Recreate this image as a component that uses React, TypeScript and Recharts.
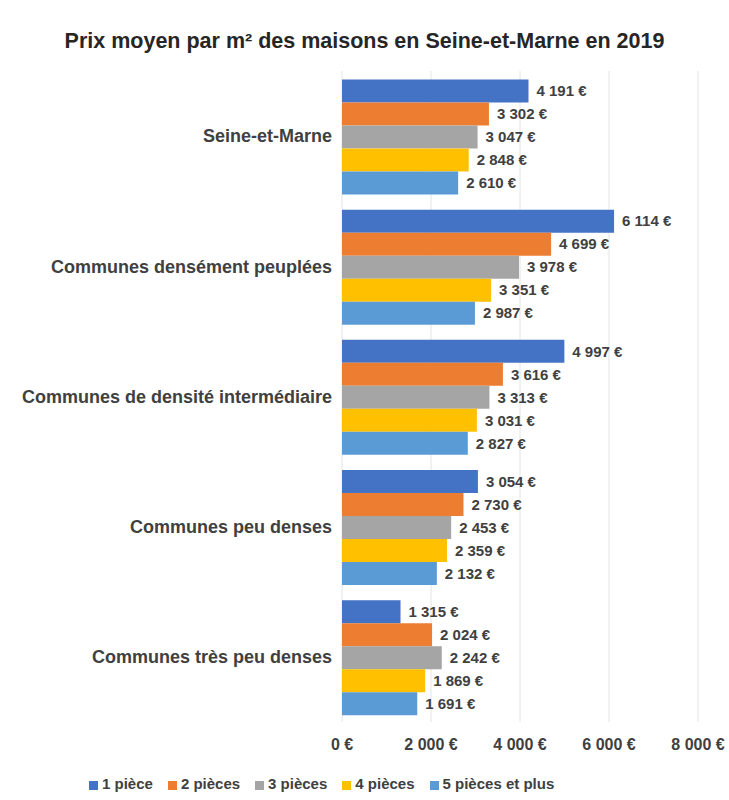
import { Bar, BarChart, CartesianGrid, LabelList, Legend, XAxis, YAxis } from 'recharts'

// catégories (axe vertical)
const categories = [
  'Seine-et-Marne',
  'Communes densément peuplées',
  'Communes de densité intermédiaire',
  'Communes peu denses',
  'Communes très peu denses'
]

// prix moyen au m² par nombre de pièces
const unePiece = [4191, 6114, 4997, 3054, 1315]
const deuxPieces = [3302, 4699, 3616, 2730, 2024]
const troisPieces = [3047, 3978, 3313, 2453, 2242]
const quatrePieces = [2848, 3351, 3031, 2359, 1869]
const cinqPiecesEtPlus = [2610, 2987, 2827, 2132, 1691]

const xTicks = [0, 2000, 4000, 6000, 8000]

const series = [
  { key: 'p1', name: '1 pièce', values: unePiece, color: '#4472C4' },
  { key: 'p2', name: '2 pièces', values: deuxPieces, color: '#ED7D31' },
  { key: 'p3', name: '3 pièces', values: troisPieces, color: '#A5A5A5' },
  { key: 'p4', name: '4 pièces', values: quatrePieces, color: '#FFC000' },
  { key: 'p5', name: '5 pièces et plus', values: cinqPiecesEtPlus, color: '#5B9BD5' }
]

const data = categories.map((name, i) => {
  const row: Record<string, string | number> = { name }
  series.forEach((s) => {
    row[s.key] = s.values[i]
  })
  return row
})

// 4191 -> "4 191 €"
const formatEuro = (v: any) => {
  const n = Number(v)
  if (n < 1000) return `${n} €`
  const thousands = Math.floor(n / 1000)
  const rest = String(n % 1000).padStart(3, '0')
  return `${thousands} ${rest} €`
}

const FONT = '"Liberation Sans", Arial, sans-serif'
const TEXT = '#404040'

export default function App() {
  return (
    <div
      style={{
        position: 'absolute',
        left: 0,
        top: 0,
        width: 729,
        height: 800,
        background: '#FFFFFF',
        fontFamily: FONT
      }}
    >
      <div
        style={{
          position: 'absolute',
          top: 29,
          left: 0,
          width: 729,
          textAlign: 'center',
          fontSize: 21.5,
          fontWeight: 'bold',
          color: '#262626'
        }}
      >
        Prix moyen par m² des maisons en Seine-et-Marne en 2019
      </div>
      <BarChart
        width={729}
        height={800}
        data={data}
        layout="vertical"
        margin={{ top: 71, right: 31, left: 0, bottom: 1 }}
        barCategoryGap="6.5%"
        barGap={0}
      >
        <CartesianGrid horizontal={false} vertical={true} stroke="#E4E4E4" />
        <XAxis
          type="number"
          domain={[0, 8000]}
          ticks={xTicks}
          tickFormatter={formatEuro}
          axisLine={false}
          tickLine={false}
          tickMargin={11}
          height={53}
          tick={{ fill: TEXT, fontSize: 16, fontWeight: 'bold', fontFamily: FONT }}
        />
        <YAxis
          type="category"
          dataKey="name"
          width={342}
          axisLine={false}
          tickLine={false}
          tickMargin={4}
          tick={{ fill: TEXT, fontSize: 18, fontWeight: 'bold', fontFamily: FONT }}
        />
        <Legend
          verticalAlign="bottom"
          align="left"
          iconType="square"
          iconSize={9}
          wrapperStyle={{ left: 89, height: 24, fontFamily: FONT, fontSize: 15, fontWeight: 'bold' }}
          formatter={(value) => <span style={{ color: TEXT, marginRight: 5 }}>{value}</span>}
        />
        {series.map((s) => (
          <Bar key={s.key} dataKey={s.key} name={s.name} fill={s.color} isAnimationActive={false}>
            <LabelList
              dataKey={s.key}
              position="right"
              offset={8}
              formatter={formatEuro}
              style={{ fill: TEXT, fontSize: 15, fontWeight: 'bold', fontFamily: FONT }}
            />
          </Bar>
        ))}
      </BarChart>
    </div>
  )
}
